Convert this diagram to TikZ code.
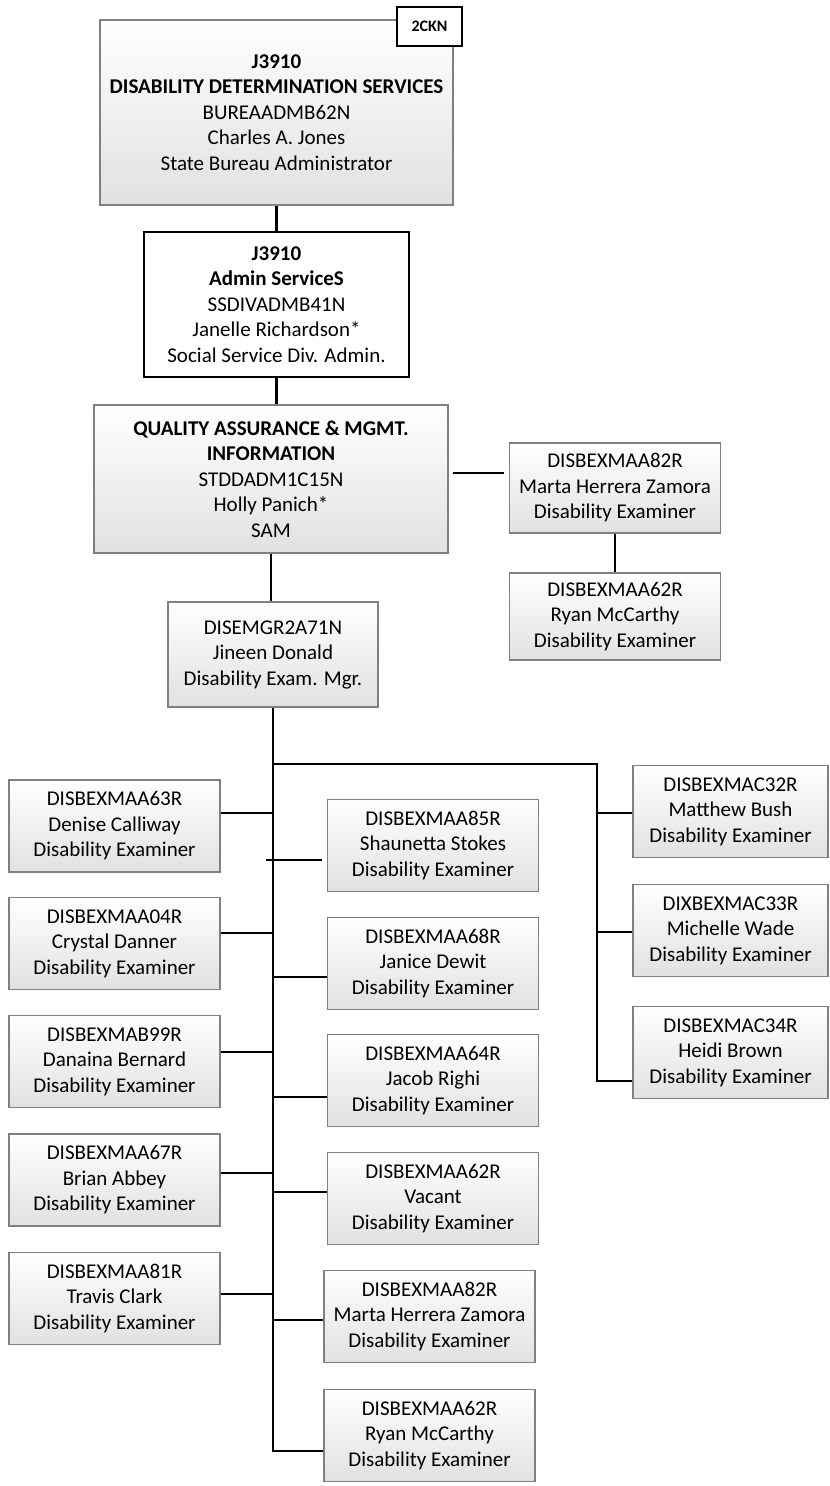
\documentclass[tikz,border=0pt]{standalone}
\usepackage{fontspec}
\setmainfont{Carlito}
\usetikzlibrary{positioning,calc}
\definecolor{boxline} {RGB}{128,128,128}
\definecolor{boxshade}{RGB}{225,225,225}
\newcommand{\orgfont}{\fontsize{10.5}{12.75}\selectfont}

\begin{document}
\begin{tikzpicture}[
  x=0.5pt, y=-0.5pt,
  unit/.style={rectangle,draw=boxline,top color=white,bottom color=boxshade,
               line width=0.6pt,inner sep=0pt,align=center,font=\orgfont},
  exam/.style ={unit,minimum width=105.5pt,minimum height=46pt},
  exmr/.style ={unit,minimum width=97.5pt,minimum height=46pt},
  head/.style ={rectangle,draw=black,fill=white,line width=1pt,inner sep=0pt,
                align=center,font=\orgfont},
  tag/.style  ={rectangle,draw=black,fill=white,line width=1pt,inner sep=0pt,
                font=\fontsize{8}{9}\selectfont\bfseries,
                minimum width=32.5pt,minimum height=19.5pt},
  link/.style ={black,line width=1.2pt}
]
\useasboundingbox (0,0) rectangle (829,1486);

% top of the chain
\node[unit,minimum width=176.5pt,minimum height=92.5pt] (dds) at (276.5,112.5)
  {\textbf{J3910}\\\textbf{DISABILITY DETERMINATION SERVICES}\\BUREAADMB62N\\
   Charles A. Jones\\State Bureau Administrator};
\node[tag] (ckn) at (429.5,26.5) {2CKN};

\node[head,minimum width=132.5pt,minimum height=72.5pt] (adm) at (276.5,304.5)
  {\textbf{J3910}\\\textbf{Admin ServiceS}\\SSDIVADMB41N\\
   Janelle Richardson*\\Social Service Div. Admin.};

\node[unit,minimum width=177pt,minimum height=74pt] (qam) at (271,479)
  {\textbf{QUALITY ASSURANCE \& MGMT.}\\\textbf{INFORMATION}\\STDDADM1C15N\\
   Holly Panich*\\SAM};

\node[exam,minimum height=45pt] (marta1) at (615,488)
  {DISBEXMAA82R\\Marta Herrera Zamora\\Disability Examiner};
\node[exam,minimum height=43.5pt] (ryan1) at (615,616.5)
  {DISBEXMAA62R\\Ryan McCarthy\\Disability Examiner};

\node[exam,minimum width=105pt,minimum height=52.5pt] (mgr) at (273,654.5)
  {DISEMGR2A71N\\Jineen Donald\\Disability Exam. Mgr.};

% left column
\node[exam] (denise)  at (114.5,826)    {DISBEXMAA63R\\Denise Calliway\\Disability Examiner};
\node[exam] (crystal) at (114.5,943.5)  {DISBEXMAA04R\\Crystal Danner\\Disability Examiner};
\node[exam] (danaina) at (114.5,1061.5) {DISBEXMAB99R\\Danaina Bernard\\Disability Examiner};
\node[exam] (brian)   at (114.5,1180)   {DISBEXMAA67R\\Brian Abbey\\Disability Examiner};
\node[exam] (travis)  at (114.5,1298.5) {DISBEXMAA81R\\Travis Clark\\Disability Examiner};

% middle column
\node[exam] (shaun)  at (433,845.5)    {DISBEXMAA85R\\Shaunetta Stokes\\Disability Examiner};
\node[exam] (janice) at (433,963.5)    {DISBEXMAA68R\\Janice Dewit\\Disability Examiner};
\node[exam] (jacob)  at (433,1080.5)   {DISBEXMAA64R\\Jacob Righi\\Disability Examiner};
\node[exam] (vacant) at (433,1198.5)   {DISBEXMAA62R\\Vacant\\Disability Examiner};
\node[exam] (marta2) at (429.5,1316.5) {DISBEXMAA82R\\Marta Herrera Zamora\\Disability Examiner};
\node[exam] (ryan2)  at (429.5,1435.5) {DISBEXMAA62R\\Ryan McCarthy\\Disability Examiner};

% right column
\node[exmr] (matthew)  at (730.5,811.5)  {DISBEXMAC32R\\Matthew Bush\\Disability Examiner};
\node[exmr] (michelle) at (730.5,930.5)  {DIXBEXMAC33R\\Michelle Wade\\Disability Examiner};
\node[exmr] (heidi)    at (730.5,1052.5) {DISBEXMAC34R\\Heidi Brown\\Disability Examiner};

% connectors
\draw[link] (dds.south) -- (adm.north);
\draw[link] (adm.south) -- (adm.south |- qam.north);
\draw[link] (qam.south) -- (qam.south |- mgr.north);
\draw[link,shorten <=2pt,shorten >=2.5pt]
  ([yshift=3pt]qam.east) -- ([yshift=3pt]qam.east -| marta1.west);
\draw[link] (marta1.south) -- (ryan1.north);

\draw[link] (mgr.south) |- ([yshift=-7.75pt]ryan2.west);
\foreach \n/\s in {denise/6.5pt,crystal/5.25pt,danaina/4.75pt,brian/3.5pt,travis/2.25pt}
  \draw[link] ([yshift=\s]\n.east) -- ([yshift=\s]\n.east -| mgr.south);
\foreach \n/\s in {janice/-6.75pt,jacob/-8.25pt,vacant/3.25pt,marta2/-1.75pt}
  \draw[link] ([yshift=\s]\n.west) -- ([yshift=\s]\n.west -| mgr.south);
\draw[link,shorten >=2.5pt]
  ($([yshift=-7.25pt]shaun.west -| mgr.south)+(-7,0)$) -- ([yshift=-7.25pt]shaun.west);

\coordinate (rbus) at (597,764);
\draw[link] (rbus -| mgr.south) -- (rbus) |- ([yshift=-14.25pt]heidi.west);
\foreach \n in {matthew,michelle}
  \draw[link] ([yshift=-0.75pt]\n.west) -- ([yshift=-0.75pt]\n.west -| rbus);
\end{tikzpicture}
\end{document}
